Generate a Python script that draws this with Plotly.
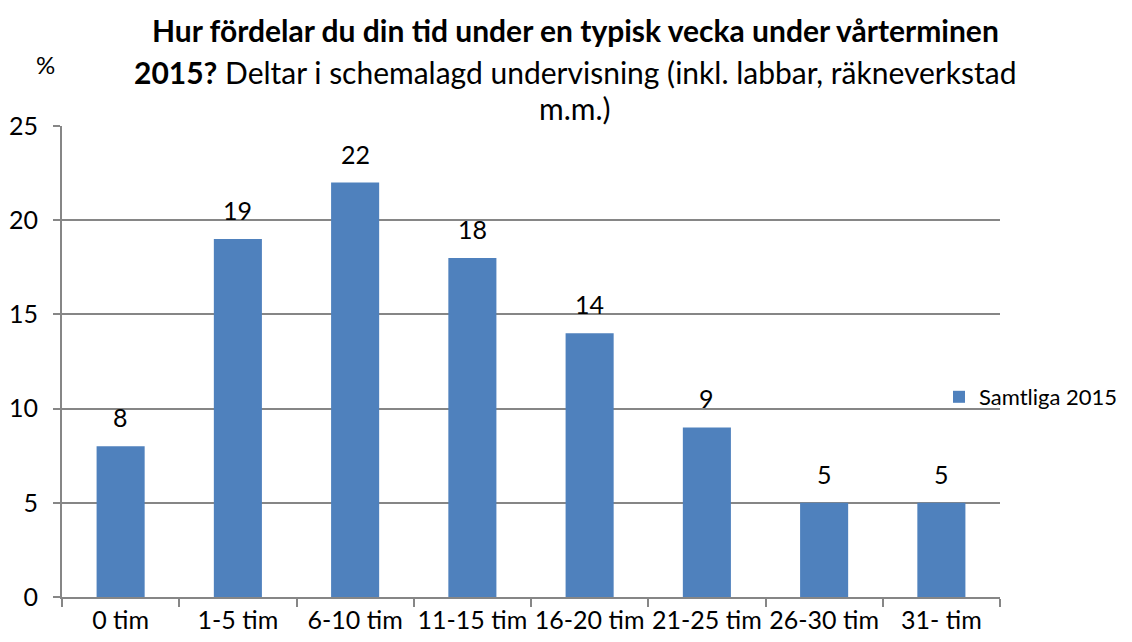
import plotly.graph_objects as go

categories = ['0 tim', '1-5 tim', '6-10 tim', '11-15 tim', '16-20 tim',
              '21-25 tim', '26-30 tim', '31- tim']
values = [8, 19, 22, 18, 14, 9, 5, 5]
series_name = 'Samtliga 2015'

FONT = 'Lato'
GRID = '#868686'

# page has an 8px body margin, so shift everything up/left by 8px
W, H = 1124, 634
L, R, T, B = 54, 132, 118, 45
pw, ph = W - L - R, H - T - B


def px(x, y):
    # figure pixel -> paper coords
    return (x - L) / pw, (H - B - y) / ph


fig = go.Figure()
fig.add_trace(go.Bar(
    x=categories, y=values, name=series_name,
    marker=dict(color='#4f81bd', line=dict(width=0)),
    showlegend=True,
))

annotations = []
for c, v in zip(categories, values):
    annotations.append(dict(x=c, y=v, text=str(v), showarrow=False,
                            yanchor='middle', yshift=29,
                            font=dict(size=25, color='black')))

title_lines = [
    '<b>Hur fördelar du din tid under en typisk vecka under vårterminen</b>',
    '<b>2015?</b> Deltar i schemalagd undervisning (inkl. labbar, räkneverkstad',
    'm.m.)',
]
for line, yy in zip(title_lines, [22, 64, 100]):
    ax, ay = px(567, yy)
    annotations.append(dict(text=line, x=ax, y=ay, xref='paper', yref='paper',
                            xanchor='center', yanchor='middle', showarrow=False,
                            font=dict(size=30, color='black')))

ax, ay = px(37, 56)
annotations.append(dict(text='%', x=ax, y=ay, xref='paper', yref='paper',
                        xanchor='center', yanchor='middle', showarrow=False,
                        font=dict(size=24, color='black')))

lx, ly = px(931, 389)

fig.update_layout(
    width=W, height=H,
    margin=dict(l=L, r=R, t=T, b=B, autoexpand=False),
    plot_bgcolor='white', paper_bgcolor='white',
    font=dict(family=FONT, size=25, color='black'),
    bargap=0.59,
    showlegend=True,
    legend=dict(x=lx, y=ly, xanchor='left', yanchor='middle',
                font=dict(size=22), bgcolor='rgba(0,0,0,0)', itemwidth=30),
    xaxis=dict(
        showline=True, linecolor=GRID, linewidth=2,
        ticks='outside', tickson='boundaries', ticklen=8, tickcolor=GRID, tickwidth=2,
        tickfont=dict(size=25), tickangle=0, automargin=False,
    ),
    yaxis=dict(
        range=[0, 25], dtick=5,
        showgrid=True, gridcolor=GRID, gridwidth=2,
        showline=True, linecolor=GRID, linewidth=2,
        ticks='outside', ticklen=7, tickcolor=GRID, tickwidth=2,
        ticklabelstandoff=10, automargin=False,
        tickfont=dict(size=25), zeroline=False,
    ),
    annotations=annotations,
)

fig.write_html("out.html")
